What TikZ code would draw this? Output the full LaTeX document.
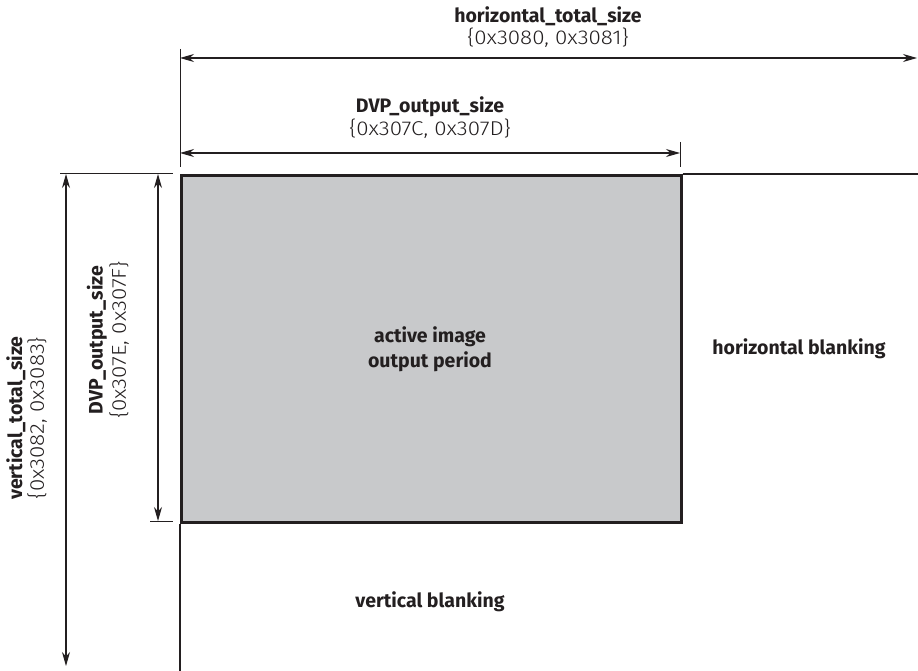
\documentclass[tikz,border=0pt]{standalone}
\usepackage{fontspec}
\setmainfont{Fira Sans}
\newfontfamily\hexfont{Fira Sans Light}
\usetikzlibrary{arrows.meta}
\definecolor{boxgray}{HTML}{C8C9CB}
\definecolor{ink}{HTML}{231F20}
\tikzset{
  dim/.style={draw=ink, line width=1.1pt, {Stealth[length=14pt,width=8pt,inset=4.5pt]}-{Stealth[length=14pt,width=8pt,inset=4.5pt]}},
  ext/.style={draw=ink, line width=1pt},
  frame/.style={draw=ink, line width=2.6pt},
  lbl/.style={font=\fontsize{19.5}{25}\selectfont\bfseries, text=ink, inner sep=0pt, align=center},
  hex/.style={font=\hexfont\fontsize{20}{23}\selectfont, text=ink, inner sep=0pt, xscale=1.12},
  vhex/.style={font=\hexfont\fontsize{20}{23}\selectfont, text=ink, inner sep=0pt, yscale=1.12},
}
\begin{document}
\begin{tikzpicture}[x=1pt,y=-1pt]
\useasboundingbox (0,0) rectangle (918,671);

% active image area
\node (active) [frame, fill=boxgray, minimum width=500pt, minimum height=347pt, inner sep=0pt, anchor=north west] at (180,174) {};
\node [lbl] at (430,349) {active image\\output period};

% blanking frame lines
\coordinate (topend) at (918,174);
\coordinate (leftend) at (180,672);
\draw [frame] (active.north east) -- (topend);
\draw [frame] (active.south west) -- (leftend);
\node (hblank) [lbl] at (799,349) {horizontal blanking};
\node (vblank) [lbl] at (430,602) {vertical blanking};

% extension lines
\coordinate (ext1a) at (180,49);  \coordinate (ext1b) at (180,167);
\coordinate (ext2a) at (680,142); \coordinate (ext2b) at (680,167);
\coordinate (ext3a) at (60,174);  \coordinate (ext3b) at (173,174);
\coordinate (ext4a) at (150,521); \coordinate (ext4b) at (173,521);
\draw [ext] (ext1a) -- (ext1b);
\draw [ext] (ext2a) -- (ext2b);
\draw [ext] (ext3a) -- (ext3b);
\draw [ext] (ext4a) -- (ext4b);

% horizontal dimensions
\coordinate (htl) at (180,58);  \coordinate (htr) at (917,58);
\draw [dim] (htl) -- (htr);
\node (htname) [lbl] at (548,16) {horizontal\_total\_size};
\node (hthex) [hex] at (548,38) {\{0x3080, 0x3081\}};

\coordinate (hdl) at (180,153); \coordinate (hdr) at (680,153);
\draw [dim] (hdl) -- (hdr);
\node (hdname) [lbl] at (430,107) {DVP\_output\_size};
\node (hdhex) [hex] at (430,129) {\{0x307C, 0x307D\}};

% vertical dimensions
\coordinate (vtt) at (66,174); \coordinate (vtb) at (66,666);
\draw [dim] (vtt) -- (vtb);
\node (vtname) [lbl, rotate=90] at (16,418) {vertical\_total\_size};
\node (vthex) [vhex, rotate=90] at (37,418) {\{0x3082, 0x3083\}};

\coordinate (vdt) at (158,174); \coordinate (vdb) at (158,521);
\draw [dim] (vdt) -- (vdb);
\node (vdname) [lbl, rotate=90] at (97,340) {DVP\_output\_size};
\node (vdhex) [vhex, rotate=90] at (119,340) {\{0x307E, 0x307F\}};
\end{tikzpicture}
\end{document}
